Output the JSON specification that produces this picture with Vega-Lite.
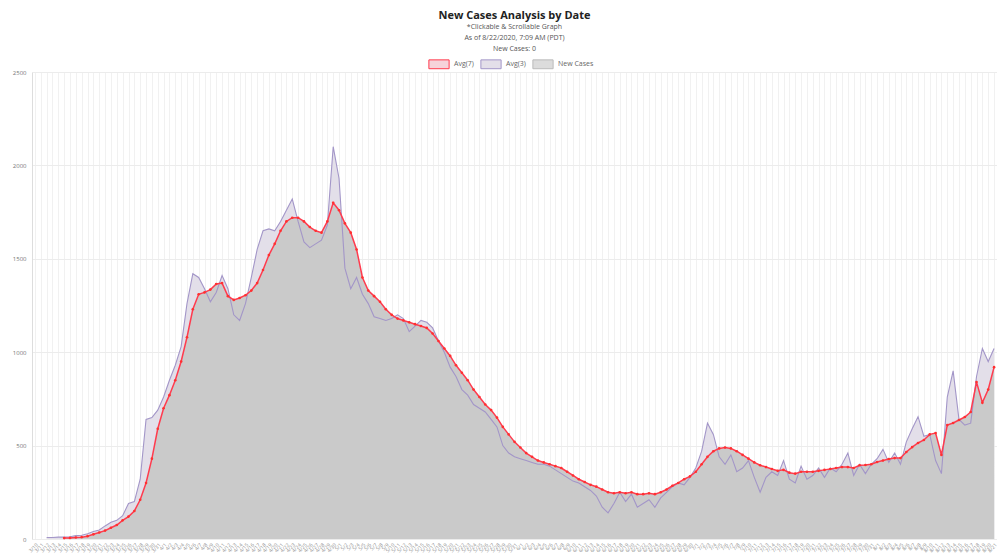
{
  "$schema": "https://vega.github.io/schema/vega-lite/v6.json",
  "width": 965,
  "height": 467,
  "autosize": {"type": "none"},
  "padding": {"left": 32, "top": 72, "right": 0, "bottom": 20},
  "background": "white",
  "title": {
    "text": "New Cases Analysis by Date",
    "subtitle": ["*Clickable & Scrollable Graph", "As of 8/22/2020, 7:09 AM (PDT)", "New Cases: 0"],
    "anchor": "middle",
    "fontSize": 11,
    "fontWeight": "bold",
    "font": "Open Sans",
    "color": "#222222",
    "subtitleFont": "Open Sans",
    "subtitleFontSize": 7,
    "subtitleColor": "#555555",
    "subtitleLineHeight": 11,
    "subtitlePadding": 2,
    "offset": 5
  },
  "data": {
    "values": [
      {"date": "3/10", "a3": null, "a7": null},
      {"date": "3/11", "a3": null, "a7": null},
      {"date": "3/12", "a3": 8, "a7": null},
      {"date": "3/13", "a3": 8, "a7": null},
      {"date": "3/14", "a3": 10, "a7": null},
      {"date": "3/15", "a3": 10, "a7": 5},
      {"date": "3/16", "a3": 12, "a7": 6},
      {"date": "3/17", "a3": 18, "a7": 8},
      {"date": "3/18", "a3": 20, "a7": 10},
      {"date": "3/19", "a3": 28, "a7": 15},
      {"date": "3/20", "a3": 40, "a7": 25},
      {"date": "3/21", "a3": 48, "a7": 35},
      {"date": "3/22", "a3": 70, "a7": 45},
      {"date": "3/23", "a3": 90, "a7": 60},
      {"date": "3/24", "a3": 100, "a7": 75},
      {"date": "3/25", "a3": 125, "a7": 100},
      {"date": "3/26", "a3": 190, "a7": 120},
      {"date": "3/27", "a3": 200, "a7": 150},
      {"date": "3/28", "a3": 320, "a7": 210},
      {"date": "3/29", "a3": 640, "a7": 300},
      {"date": "3/30", "a3": 650, "a7": 430},
      {"date": "3/31", "a3": 690, "a7": 590},
      {"date": "4/1", "a3": 760, "a7": 700},
      {"date": "4/2", "a3": 850, "a7": 770},
      {"date": "4/3", "a3": 930, "a7": 850},
      {"date": "4/4", "a3": 1030, "a7": 950},
      {"date": "4/5", "a3": 1260, "a7": 1080},
      {"date": "4/6", "a3": 1420, "a7": 1230},
      {"date": "4/7", "a3": 1400, "a7": 1310},
      {"date": "4/8", "a3": 1340, "a7": 1320},
      {"date": "4/9", "a3": 1270, "a7": 1335},
      {"date": "4/10", "a3": 1320, "a7": 1365},
      {"date": "4/11", "a3": 1410, "a7": 1370},
      {"date": "4/12", "a3": 1340, "a7": 1300},
      {"date": "4/13", "a3": 1200, "a7": 1280},
      {"date": "4/14", "a3": 1170, "a7": 1290},
      {"date": "4/15", "a3": 1260, "a7": 1305},
      {"date": "4/16", "a3": 1400, "a7": 1330},
      {"date": "4/17", "a3": 1550, "a7": 1370},
      {"date": "4/18", "a3": 1650, "a7": 1440},
      {"date": "4/19", "a3": 1660, "a7": 1520},
      {"date": "4/20", "a3": 1650, "a7": 1580},
      {"date": "4/21", "a3": 1700, "a7": 1650},
      {"date": "4/22", "a3": 1760, "a7": 1700},
      {"date": "4/23", "a3": 1820, "a7": 1720},
      {"date": "4/24", "a3": 1700, "a7": 1720},
      {"date": "4/25", "a3": 1590, "a7": 1700},
      {"date": "4/26", "a3": 1560, "a7": 1670},
      {"date": "4/27", "a3": 1580, "a7": 1650},
      {"date": "4/28", "a3": 1600, "a7": 1640},
      {"date": "4/29", "a3": 1680, "a7": 1700},
      {"date": "4/30", "a3": 2100, "a7": 1800},
      {"date": "5/1", "a3": 1930, "a7": 1760},
      {"date": "5/2", "a3": 1450, "a7": 1690},
      {"date": "5/3", "a3": 1340, "a7": 1640},
      {"date": "5/4", "a3": 1400, "a7": 1550},
      {"date": "5/5", "a3": 1310, "a7": 1400},
      {"date": "5/6", "a3": 1260, "a7": 1330},
      {"date": "5/7", "a3": 1190, "a7": 1300},
      {"date": "5/8", "a3": 1180, "a7": 1270},
      {"date": "5/9", "a3": 1170, "a7": 1230},
      {"date": "5/10", "a3": 1180, "a7": 1200},
      {"date": "5/11", "a3": 1200, "a7": 1180},
      {"date": "5/12", "a3": 1180, "a7": 1170},
      {"date": "5/13", "a3": 1110, "a7": 1160},
      {"date": "5/14", "a3": 1140, "a7": 1150},
      {"date": "5/15", "a3": 1170, "a7": 1140},
      {"date": "5/16", "a3": 1160, "a7": 1130},
      {"date": "5/17", "a3": 1130, "a7": 1100},
      {"date": "5/18", "a3": 1060, "a7": 1060},
      {"date": "5/19", "a3": 1000, "a7": 1020},
      {"date": "5/20", "a3": 920, "a7": 980},
      {"date": "5/21", "a3": 870, "a7": 930},
      {"date": "5/22", "a3": 800, "a7": 890},
      {"date": "5/23", "a3": 770, "a7": 850},
      {"date": "5/24", "a3": 720, "a7": 800},
      {"date": "5/25", "a3": 700, "a7": 760},
      {"date": "5/26", "a3": 680, "a7": 720},
      {"date": "5/27", "a3": 640, "a7": 690},
      {"date": "5/28", "a3": 600, "a7": 650},
      {"date": "5/29", "a3": 500, "a7": 600},
      {"date": "5/30", "a3": 460, "a7": 560},
      {"date": "5/31", "a3": 440, "a7": 520},
      {"date": "6/1", "a3": 430, "a7": 490},
      {"date": "6/2", "a3": 420, "a7": 460},
      {"date": "6/3", "a3": 410, "a7": 440},
      {"date": "6/4", "a3": 400, "a7": 420},
      {"date": "6/5", "a3": 400, "a7": 410},
      {"date": "6/6", "a3": 390, "a7": 400},
      {"date": "6/7", "a3": 370, "a7": 390},
      {"date": "6/8", "a3": 350, "a7": 380},
      {"date": "6/9", "a3": 330, "a7": 360},
      {"date": "6/10", "a3": 310, "a7": 340},
      {"date": "6/11", "a3": 300, "a7": 320},
      {"date": "6/12", "a3": 280, "a7": 305},
      {"date": "6/13", "a3": 260, "a7": 290},
      {"date": "6/14", "a3": 230, "a7": 280},
      {"date": "6/15", "a3": 170, "a7": 265},
      {"date": "6/16", "a3": 140, "a7": 250},
      {"date": "6/17", "a3": 190, "a7": 245},
      {"date": "6/18", "a3": 250, "a7": 250},
      {"date": "6/19", "a3": 200, "a7": 245},
      {"date": "6/20", "a3": 240, "a7": 250},
      {"date": "6/21", "a3": 170, "a7": 240},
      {"date": "6/22", "a3": 190, "a7": 240},
      {"date": "6/23", "a3": 210, "a7": 245},
      {"date": "6/24", "a3": 170, "a7": 240},
      {"date": "6/25", "a3": 220, "a7": 250},
      {"date": "6/26", "a3": 250, "a7": 265},
      {"date": "6/27", "a3": 280, "a7": 285},
      {"date": "6/28", "a3": 300, "a7": 300},
      {"date": "6/29", "a3": 290, "a7": 320},
      {"date": "6/30", "a3": 330, "a7": 335},
      {"date": "7/1", "a3": 380, "a7": 360},
      {"date": "7/2", "a3": 470, "a7": 400},
      {"date": "7/3", "a3": 620, "a7": 440},
      {"date": "7/4", "a3": 560, "a7": 470},
      {"date": "7/5", "a3": 440, "a7": 485},
      {"date": "7/6", "a3": 400, "a7": 490},
      {"date": "7/7", "a3": 450, "a7": 485},
      {"date": "7/8", "a3": 360, "a7": 470},
      {"date": "7/9", "a3": 380, "a7": 450},
      {"date": "7/10", "a3": 420, "a7": 430},
      {"date": "7/11", "a3": 330, "a7": 410},
      {"date": "7/12", "a3": 250, "a7": 395},
      {"date": "7/13", "a3": 330, "a7": 385},
      {"date": "7/14", "a3": 360, "a7": 375},
      {"date": "7/15", "a3": 340, "a7": 365},
      {"date": "7/16", "a3": 420, "a7": 370},
      {"date": "7/17", "a3": 320, "a7": 355},
      {"date": "7/18", "a3": 300, "a7": 350},
      {"date": "7/19", "a3": 390, "a7": 360},
      {"date": "7/20", "a3": 320, "a7": 360},
      {"date": "7/21", "a3": 340, "a7": 360},
      {"date": "7/22", "a3": 380, "a7": 365},
      {"date": "7/23", "a3": 330, "a7": 370},
      {"date": "7/24", "a3": 380, "a7": 375},
      {"date": "7/25", "a3": 360, "a7": 380},
      {"date": "7/26", "a3": 400, "a7": 385},
      {"date": "7/27", "a3": 460, "a7": 385},
      {"date": "7/28", "a3": 340, "a7": 380},
      {"date": "7/29", "a3": 400, "a7": 395},
      {"date": "7/30", "a3": 350, "a7": 396},
      {"date": "7/31", "a3": 400, "a7": 400},
      {"date": "8/1", "a3": 430, "a7": 412},
      {"date": "8/2", "a3": 480, "a7": 420},
      {"date": "8/3", "a3": 410, "a7": 428},
      {"date": "8/4", "a3": 460, "a7": 433},
      {"date": "8/5", "a3": 400, "a7": 433},
      {"date": "8/6", "a3": 520, "a7": 466},
      {"date": "8/7", "a3": 590, "a7": 492},
      {"date": "8/8", "a3": 655, "a7": 514},
      {"date": "8/9", "a3": 550, "a7": 530},
      {"date": "8/10", "a3": 560, "a7": 560},
      {"date": "8/11", "a3": 420, "a7": 567},
      {"date": "8/12", "a3": 350, "a7": 450},
      {"date": "8/13", "a3": 760, "a7": 610},
      {"date": "8/14", "a3": 900, "a7": 621},
      {"date": "8/15", "a3": 640, "a7": 637},
      {"date": "8/16", "a3": 610, "a7": 653},
      {"date": "8/17", "a3": 620, "a7": 680},
      {"date": "8/18", "a3": 870, "a7": 840},
      {"date": "8/19", "a3": 1020, "a7": 730},
      {"date": "8/20", "a3": 950, "a7": 800},
      {"date": "8/21", "a3": 1020, "a7": 920}
    ]
  },
  "encoding": {
    "x": {
      "field": "date",
      "type": "ordinal",
      "sort": null,
      "scale": {"type": "point", "padding": 0.5},
      "axis": {
        "title": null,
        "labelAngle": -45,
        "labelFontSize": 5,
        "labelColor": "#888888",
        "labelOverlap": false,
        "labelPadding": 3,
        "ticks": false,
        "domain": false,
        "grid": true,
        "gridColor": "#f1f1f1",
        "gridWidth": 1
      }
    }
  },
  "layer": [
    {
      "mark": {"type": "area", "line": false, "opacity": 1},
      "encoding": {
        "y": {
          "field": "a3",
          "type": "quantitative",
          "stack": null,
          "scale": {"domain": [0, 2500], "nice": false},
          "axis": {
            "title": null,
            "values": [0, 500, 1000, 1500, 2000, 2500],
            "format": "d",
            "labelFontSize": 6,
            "labelColor": "#777777",
            "ticks": false,
            "domainColor": "#dddddd",
            "gridColor": "#ececec",
            "labelPadding": 6
          }
        },
        "fill": {
          "datum": "Avg(3)",
          "scale": {"domain": ["Avg(7)", "Avg(3)", "New Cases"], "range": ["#f6d3da", "#e3dfe9", "#dcdcdc"]},
          "legend": {"title": null, "orient": "none", "legendX": 400, "legendY": -15, "direction": "horizontal"}
        }
      }
    },
    {
      "mark": {"type": "area", "line": false, "opacity": 1, "fill": "#cacaca"},
      "encoding": {
        "y": {"field": "a7", "type": "quantitative", "stack": null}
      }
    },
    {
      "mark": {"type": "line", "strokeWidth": 1.1},
      "encoding": {
        "y": {"field": "a3", "type": "quantitative"},
        "stroke": {
          "datum": "Avg(3)",
          "scale": {"domain": ["Avg(7)", "Avg(3)", "New Cases"], "range": ["#ff3b4e", "#a396c8", "#bbbbbb"]},
          "legend": {"title": null, "orient": "none", "legendX": 400, "legendY": -15, "direction": "horizontal"}
        }
      }
    },
    {
      "mark": {"type": "line", "strokeWidth": 1.5},
      "encoding": {
        "y": {"field": "a7", "type": "quantitative"},
        "stroke": {"datum": "Avg(7)"}
      }
    },
    {
      "mark": {"type": "circle", "size": 7, "opacity": 1, "color": "#ff3030"},
      "encoding": {
        "y": {"field": "a7", "type": "quantitative"}
      }
    }
  ],
  "config": {
    "view": {"stroke": null},
    "font": "Open Sans",
    "legend": {
      "labelFontSize": 7,
      "labelColor": "#666666",
      "labelOffset": 8,
      "symbolType": "M-1.6,-0.7H1.6V0.7H-1.6Z",
      "symbolSize": 160,
      "symbolStrokeWidth": 1,
      "columnPadding": 4,
      "padding": 0,
      "labelExpr": "datum.label == 'New Cases' ? 'N̶e̶w̶ ̶C̶a̶s̶e̶s̶' : datum.label"
    }
  }
}
